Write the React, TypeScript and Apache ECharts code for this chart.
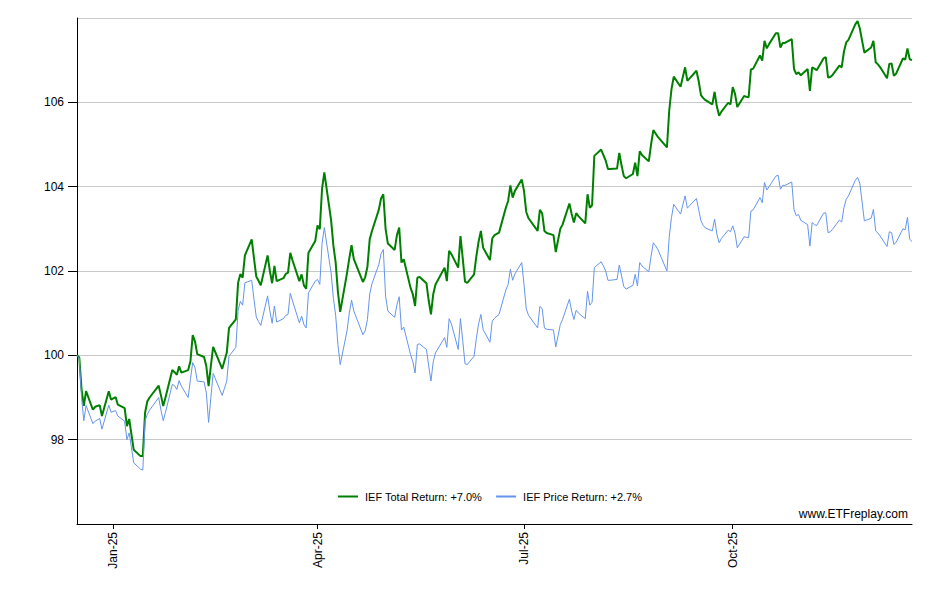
import React, { useEffect, useRef } from "react";
import * as echarts from "echarts";

// Trading days, grouped by month: [YYYY-MM, days]
const tradingDays: [string, number[]][] = [
  ["2024-12", [16, 17, 18, 19, 20, 23, 24, 26, 27, 30, 31]],
  ["2025-01", [2, 3, 6, 7, 8, 10, 13, 14, 15, 16, 17, 21, 22, 23, 24, 27, 28, 29, 30, 31]],
  ["2025-02", [3, 4, 5, 6, 7, 10, 11, 12, 13, 14, 18, 19, 20, 21, 24, 25, 26, 27, 28]],
  ["2025-03", [3, 4, 5, 6, 7, 10, 11, 12, 13, 14, 17, 18, 19, 20, 21, 24, 25, 26, 27, 28, 31]],
  ["2025-04", [1, 2, 3, 4, 7, 8, 9, 10, 11, 14, 15, 16, 17, 21, 22, 23, 24, 25, 28, 29, 30]],
  ["2025-05", [1, 2, 5, 6, 7, 8, 9, 12, 13, 14, 15, 16, 19, 20, 21, 22, 23, 27, 28, 29, 30]],
  ["2025-06", [2, 3, 4, 5, 6, 9, 10, 11, 12, 13, 16, 17, 18, 20, 23, 24, 25, 26, 27, 30]],
  ["2025-07", [1, 2, 3, 7, 8, 9, 10, 11, 14, 15, 16, 17, 18, 21, 22, 23, 24, 25, 28, 29, 30, 31]],
  ["2025-08", [1, 4, 5, 6, 7, 8, 11, 12, 13, 14, 15, 18, 19, 20, 21, 22, 25, 26, 27, 28, 29]],
  ["2025-09", [2, 3, 4, 5, 8, 9, 10, 11, 12, 15, 16, 17, 18, 19, 22, 23, 24, 25, 26, 29, 30]],
  ["2025-10", [1, 2, 3, 6, 7, 8, 9, 10, 13, 14, 15, 16, 17, 20, 21, 22, 23, 24, 27, 28, 29, 30, 31]],
  ["2025-11", [3, 4, 5, 6, 7, 10, 11, 12, 13, 14, 17, 18, 19, 20, 21, 24, 25, 26, 28]],
  ["2025-12", [1, 2, 3, 4, 5, 8, 9, 10, 11, 12, 15, 16, 17, 18, 19]],
];

const totalReturn: number[] = [
  // Dec 2024
  100.0, 99.95, 99.2, 98.8, 99.15, 98.71, 98.78, 98.82, 98.56, 99.15, 98.95,
  // Jan
  99.01, 98.83, 98.75, 98.32, 98.49, 97.76, 97.61, 97.61, 98.64, 98.91, 99.0, 99.28, 99.05, 98.8, 99.0, 99.65, 99.6, 99.54, 99.74, 99.59,
  // Feb
  99.65, 99.86, 100.48, 100.33, 100.03, 99.96, 99.74, 99.27, 99.75, 100.2, 99.68, 99.87, 100.06, 100.65, 100.85, 101.72, 101.93, 101.84, 102.37,
  // Mar
  102.75, 102.3, 101.87, 101.77, 101.66, 102.37, 102.0, 101.71, 102.12, 101.76, 101.83, 101.93, 101.96, 102.43, 102.25, 101.76, 101.92, 101.66, 101.58, 102.43, 102.71,
  // Apr
  103.08, 102.99, 103.95, 104.34, 103.2, 102.6, 102.2, 101.5, 101.03, 101.95, 102.3, 102.61, 102.28, 101.74, 101.85, 102.1, 102.75, 102.95, 103.45, 103.72, 103.82,
  // May
  103.0, 102.65, 102.5, 102.85, 103.03, 102.2, 102.28, 101.6, 101.45, 101.17, 101.84, 101.86, 101.71, 101.3, 100.97, 101.45, 101.68, 102.08, 101.76, 102.48, 102.4,
  // Jun
  102.08, 102.83, 102.3, 101.75, 101.72, 101.92, 102.35, 102.7, 102.95, 102.55, 102.26, 102.77, 102.85, 102.91, 103.5, 103.66, 104.03, 103.74, 103.9, 104.17,
  // Jul
  103.9, 103.4, 103.25, 102.95, 103.45, 103.37, 102.95, 102.9, 102.85, 102.45, 102.73, 103.0, 103.1, 103.6, 103.35, 103.15, 103.37, 103.3, 103.13, 103.82, 103.5, 103.56,
  // Aug
  104.73, 104.88, 104.75, 104.62, 104.42, 104.42, 104.43, 104.8, 104.5, 104.25, 104.2, 104.3, 104.57, 104.25, 104.84, 104.75, 104.6, 105.0, 105.34, 105.26, 105.18,
  // Sep
  104.93, 105.8, 106.31, 106.61, 106.37, 106.6, 106.83, 106.51, 106.57, 106.75, 106.5, 106.17, 106.1, 106.05, 105.95, 106.25, 105.9, 105.68, 105.78, 105.99, 105.95,
  // Oct
  106.36, 106.2, 105.89, 106.15, 106.13, 106.12, 106.78, 106.8, 107.11, 106.99, 107.46, 107.28, 107.38, 107.64, 107.64, 107.3, 107.41, 107.41, 107.5, 106.79, 106.67, 106.71, 106.64,
  // Nov
  106.79, 106.27, 106.83, 106.8, 106.76, 107.04, 107.07, 106.59, 106.6, 106.65, 106.87, 106.83, 107.2, 107.42, 107.48, 107.85, 107.93, 107.75, 107.18,
  // Dec 2025
  107.3, 107.46, 106.95, 106.9, 106.83, 106.57, 106.91, 106.92, 106.63, 106.68, 107.04, 107.01, 107.28, 107.02, 107.0,
];

const priceReturn: number[] = [
  // Dec 2024
  100.0, 99.93, 99.0, 98.45, 98.81, 98.38, 98.44, 98.5, 98.25, 98.82, 98.65,
  // Jan
  98.69, 98.56, 98.44, 98.0, 98.16, 97.45, 97.3, 97.28, 98.45, 98.6, 98.7, 99.0, 98.7, 98.45, 98.65, 99.31, 99.28, 99.19, 99.4, 99.27,
  // Feb
  99.0, 99.43, 99.83, 99.71, 99.39, 99.37, 99.11, 98.41, 99.0, 99.57, 99.05, 99.22, 99.39, 99.98, 100.19, 101.07, 101.28, 101.19, 101.72,
  // Mar
  101.78, 101.33, 100.91, 100.8, 100.71, 101.41, 101.05, 100.76, 101.17, 100.79, 100.87, 100.95, 100.97, 101.47, 101.29, 100.77, 100.93, 100.73, 100.65, 101.48, 101.76,
  // Apr
  101.8, 101.68, 102.65, 103.03, 101.95, 101.35, 100.95, 100.25, 99.78, 100.58, 101.0, 101.31, 101.05, 100.49, 100.58, 100.85, 101.45, 101.7, 102.15, 102.41, 102.51,
  // May
  101.4, 101.05, 100.9, 101.2, 101.39, 100.6, 100.67, 100.02, 99.85, 99.58, 100.26, 100.27, 100.14, 99.75, 99.39, 99.85, 100.06, 100.42, 100.19, 100.87, 100.75,
  // Jun
  100.14, 100.87, 100.35, 99.8, 99.78, 99.98, 100.4, 100.75, 100.97, 100.61, 100.31, 100.81, 100.88, 100.97, 101.55, 101.68, 102.04, 101.78, 101.93, 102.2,
  // Jul
  101.68, 101.1, 100.95, 100.65, 101.16, 101.11, 100.65, 100.62, 100.6, 100.2, 100.46, 100.73, 100.85, 101.33, 101.05, 100.85, 101.07, 101.0, 100.87, 101.52, 101.19, 101.26,
  // Aug
  102.08, 102.22, 102.12, 102.0, 101.78, 101.78, 101.8, 102.14, 101.88, 101.63, 101.57, 101.66, 101.92, 101.65, 102.2, 102.12, 101.98, 102.35, 102.67, 102.6, 102.51,
  // Sep
  102.0, 102.8, 103.27, 103.58, 103.35, 103.57, 103.78, 103.49, 103.55, 103.72, 103.45, 103.19, 103.08, 103.02, 102.95, 103.23, 102.88, 102.67, 102.77, 102.97, 102.93,
  // Oct
  103.07, 102.9, 102.55, 102.81, 102.8, 102.79, 103.42, 103.45, 103.74, 103.62, 104.1, 103.92, 104.0, 104.25, 104.27, 103.94, 104.03, 104.03, 104.11, 103.46, 103.31, 103.34, 103.2,
  // Nov
  103.1, 102.59, 103.15, 103.1, 103.08, 103.37, 103.38, 102.91, 102.93, 102.99, 103.21, 103.16, 103.5, 103.7, 103.78, 104.15, 104.22, 104.08, 103.19,
  // Dec 2025
  103.25, 103.46, 102.95, 102.9, 102.83, 102.58, 102.93, 102.91, 102.63, 102.68, 103.0, 102.98, 103.27, 102.75, 102.7,
];

const xTickDates = ["2025-01-01", "2025-04-01", "2025-07-01", "2025-10-01"];
const xTickLabels = ["Jan-25", "Apr-25", "Jul-25", "Oct-25"];
const startDate = "2024-12-16";
const endDate = "2025-12-19";

const seriesNames = ["IEF Total Return: +7.0%", "IEF Price Return: +2.7%"];
const FONT = "'Liberation Sans', Arial, sans-serif";

const dayMs = 86400000;
const toUTC = (s: string) => {
  const [y, m, d] = s.split("-").map(Number);
  return Date.UTC(y, m - 1, d);
};
const offsetOf = (s: string) => Math.round((toUTC(s) - toUTC(startDate)) / dayMs);

export default function App() {
  const ref = useRef<HTMLDivElement>(null);
  useEffect(() => {
    if (!ref.current) return;
    const chart = echarts.init(ref.current, undefined, { renderer: "svg" });
    const dates: string[] = [];
    tradingDays.forEach(([ym, days]) =>
      days.forEach((d) => dates.push(`${ym}-${String(d).padStart(2, "0")}`))
    );
    const xs = dates.map(offsetOf);
    const tickVals = xTickDates.map(offsetOf);
    const greenData = xs.map((x, i) => [x, totalReturn[i]]);
    const blueData = xs.map((x, i) => [x, priceReturn[i]]);

    chart.setOption({
      animation: false,
      grid: { left: 77, top: 18, right: 28, bottom: 76 },
      legend: {
        left: 333,
        top: 486,
        icon: "rect",
        itemWidth: 20,
        itemHeight: 2,
        itemGap: 14,
        data: seriesNames,
        textStyle: { fontSize: 11, color: "#000", fontFamily: FONT, padding: [0, 0, 0, 2] },
      },
      xAxis: {
        type: "value",
        min: 0,
        max: offsetOf(endDate),
        axisLine: { show: true, lineStyle: { color: "#000", width: 1 } },
        axisTick: { show: true, customValues: tickVals, length: 5, lineStyle: { color: "#000" } },
        axisLabel: {
          customValues: tickVals,
          rotate: 90,
          margin: 8,
          fontSize: 12,
          color: "#000",
          fontFamily: FONT,
          formatter: (v: number) => {
            const i = tickVals.indexOf(Math.round(v));
            return i >= 0 ? xTickLabels[i] : "";
          },
        },
        splitLine: { show: false },
      },
      yAxis: {
        type: "value",
        min: 96,
        max: 108,
        interval: 2,
        axisLine: { show: true, lineStyle: { color: "#000", width: 1 } },
        axisTick: { show: true, length: 9, lineStyle: { color: "#000" } },
        axisLabel: {
          showMinLabel: false,
          showMaxLabel: false,
          margin: 13,
          fontSize: 12,
          color: "#000",
          fontFamily: FONT,
        },
        splitLine: { show: true, lineStyle: { color: "#c8c8c8", width: 1 } },
      },
      graphic: [
        {
          type: "text",
          right: 32,
          top: 508,
          style: { text: "www.ETFreplay.com", fontSize: 12, fill: "#000", fontFamily: FONT },
        },
      ],
      series: [
        {
          name: seriesNames[0],
          type: "line",
          data: greenData,
          symbol: "none",
          showSymbol: false,
          lineStyle: { color: "#008000", width: 2 },
          itemStyle: { color: "#008000" },
          z: 2,
        },
        {
          name: seriesNames[1],
          type: "line",
          data: blueData,
          symbol: "none",
          showSymbol: false,
          lineStyle: { color: "#6495ED", width: 1 },
          itemStyle: { color: "#6495ED" },
          z: 3,
        },
      ],
    });
    return () => chart.dispose();
  }, []);
  return (
    <div
      ref={ref}
      style={{ position: "fixed", left: 0, top: 0, width: 940, height: 600, background: "#fff" }}
    />
  );
}
